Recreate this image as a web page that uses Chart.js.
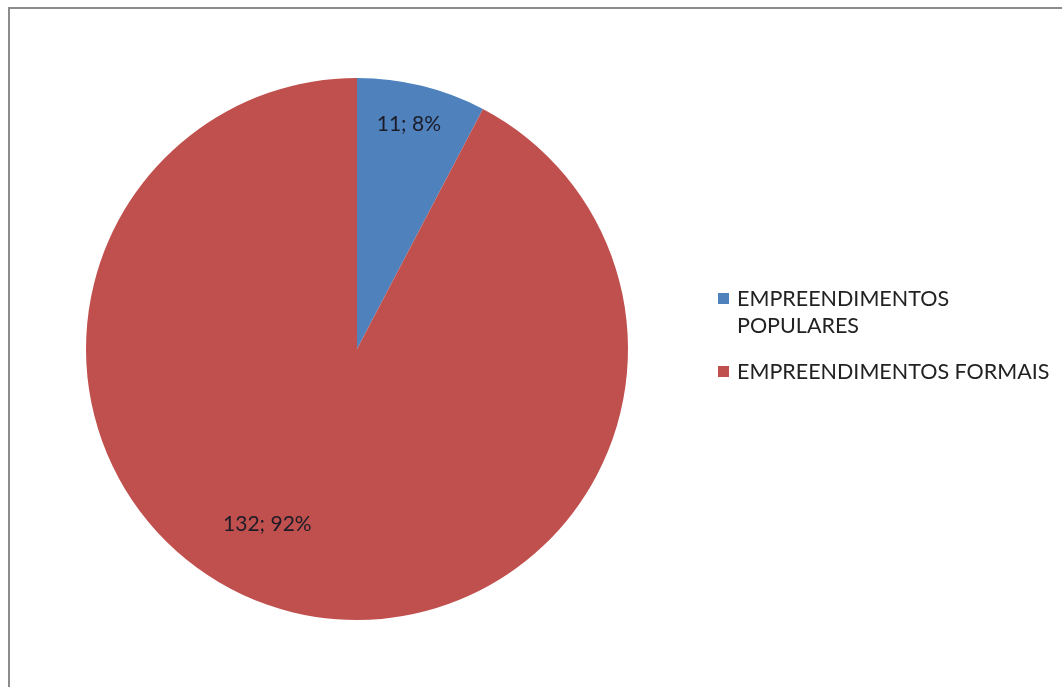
<!DOCTYPE html>
<html>
<head>
<meta charset="utf-8">
<script src="https://cdn.jsdelivr.net/npm/chart.js@4"></script>
<style>
  html, body { margin: 0; padding: 0; background: #fff; }
  #wrap { position: relative; width: 1062px; height: 687px; overflow: hidden; }
  #frame {
    position: absolute; left: 8px; top: 7px; right: -4px; bottom: -4px;
    border-top: 2px solid #8c8c8c; border-left: 2px solid #8c8c8c;
  }
  #myChartEmpreendimentos { position: absolute; left: 0; top: 0; }
</style>
</head>
<body>
<div id="wrap">
  <div id="frame"></div>
  <canvas id="myChartEmpreendimentos" width="1062" height="687"></canvas>
</div>
<script>
// --- dados ---
const categorias = [['EMPREENDIMENTOS', 'POPULARES'], ['EMPREENDIMENTOS FORMAIS']];
const totais = [11, 132];
const rotulos = ['11; 8%', '132; 92%'];
const cores = ['#4F81BD', '#C0504D'];

const fonte = '"Lato", "Open Sans", sans-serif';

// rótulos de dados dentro das fatias (ângulo relativo ao início da fatia, fração do raio)
const posRotulos = [
  { frac: 0.47, raio: 0.85 },
  { frac: 0.54, raio: 0.725 }
];

const rotulosPlugin = {
  id: 'rotulos',
  afterDatasetsDraw(chart) {
    const ctx = chart.ctx;
    const arcs = chart.getDatasetMeta(0).data;
    ctx.save();
    ctx.font = '21px ' + fonte;
    ctx.fillStyle = '#1c1c28';
    ctx.textAlign = 'center';
    ctx.textBaseline = 'middle';
    arcs.forEach((arc, i) => {
      const p = posRotulos[i];
      const ang = arc.startAngle + (arc.endAngle - arc.startAngle) * p.frac;
      const r = arc.outerRadius * p.raio;
      ctx.fillText(rotulos[i], arc.x + Math.cos(ang) * r, arc.y + Math.sin(ang) * r);
    });
    ctx.restore();
  }
};

// legenda à direita, com quebra de linha como no original
const legendaPlugin = {
  id: 'legenda',
  afterDraw(chart) {
    const ctx = chart.ctx;
    const x = chart.chartArea.right + 90;
    let y = 299;
    ctx.save();
    ctx.font = '21.5px ' + fonte;
    ctx.textBaseline = 'middle';
    ctx.textAlign = 'left';
    categorias.forEach((linhas, i) => {
      ctx.fillStyle = cores[i];
      ctx.fillRect(x, y - 6, 11, 11);
      ctx.fillStyle = '#222222';
      linhas.forEach((t, j) => {
        ctx.fillText(t, x + 19, y + j * 27);
      });
      y += linhas.length * 27 + 19;
    });
    ctx.restore();
  }
};

const chartEmp = document.getElementById('myChartEmpreendimentos');

new Chart(chartEmp, {
  type: 'pie',
  data: {
    labels: categorias.map(c => c.join(' ')),
    datasets: [{
      data: totais,
      backgroundColor: cores,
      borderWidth: 0
    }]
  },
  options: {
    responsive: false,
    animation: false,
    layout: { padding: { left: 86, top: 78, right: 434, bottom: 67 } },
    plugins: {
      legend: { display: false },
      tooltip: { enabled: false }
    }
  },
  plugins: [rotulosPlugin, legendaPlugin]
});
</script>
</body>
</html>
